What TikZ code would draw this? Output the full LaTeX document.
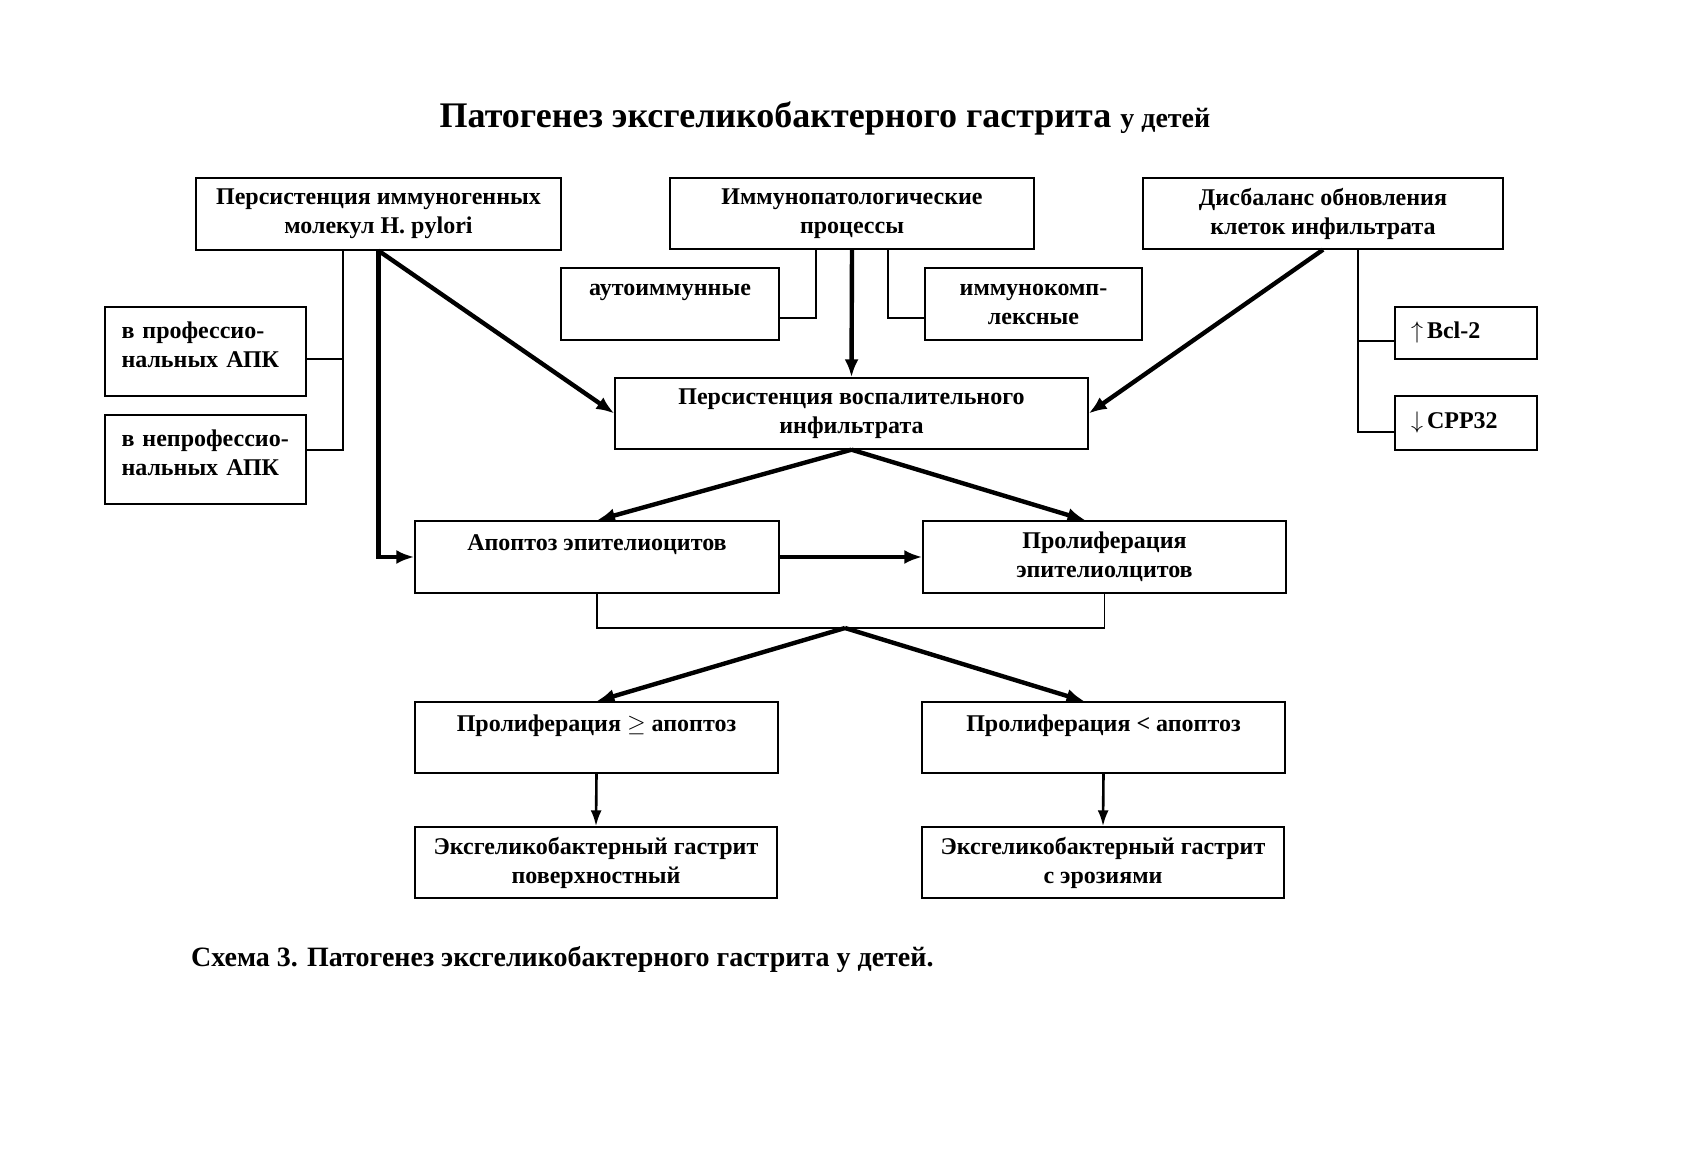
\documentclass[tikz,border=0pt]{standalone}
\usepackage{fontspec}
\setmainfont{Liberation Serif}
\usetikzlibrary{arrows.meta}
\tikzset{
  box/.style={draw, line width=0.7pt, inner sep=2pt, align=center, font=\bfseries\fontsize{12}{14.5}\selectfont},
  lbox/.style={box, align=left, inner xsep=8pt},
  thickarr/.style={line width=2.2pt, -{Latex[length=9pt,width=7pt]}},
  midarr/.style={line width=1.3pt, -{Latex[length=8pt,width=5.5pt]}},
  thin/.style={line width=0.6pt},
}
\begin{document}
\begin{tikzpicture}[x=0.5pt,y=-0.5pt]
\useasboundingbox (0,0) rectangle (1688,1159);
% title
\node (title) at (825,118) {\bfseries\fontsize{18}{21}\selectfont Патогенез эксгеликобактерного гастрита {\fontsize{14}{16}\selectfont у детей}};
% top row
\node[box, minimum width=182.5pt, minimum height=36pt] (b1) at (378.5,214) {Персистенция иммуногенных\\молекул H. pylori};
\node[box, minimum width=182pt, minimum height=35.5pt] (b2) at (852,213.5) {Иммунопатологические\\процессы};
\node[box, minimum width=180pt, minimum height=35.5pt] (b3) at (1323,213.5) {Дисбаланс обновления\\клеток инфильтрата};
% side boxes
\node[lbox, minimum width=100.5pt, minimum height=44.5pt, text width=84pt] (prof) at (205.5,351.5) {в профессио-\\нальных АПК\\[-7.5pt]~};
\node[lbox, minimum width=100.5pt, minimum height=44.5pt, text width=84pt] (nonprof) at (205.5,459.5) {в непрофессио-\\нальных АПК\\[-7.5pt]~};
\node[box, minimum width=109pt, minimum height=36pt] (auto) at (670,304) {аутоиммунные\\~};
\node[box, minimum width=108.5pt, minimum height=36pt] (icomp) at (1033.5,304) {иммунокомп-\\лексные};
\node[lbox, minimum width=71pt, minimum height=26pt, text width=55pt] (bcl) at (1466,333) {$\uparrow$\,Bcl-2};
\node[lbox, minimum width=71pt, minimum height=27pt, text width=55pt] (cpp) at (1466,423) {$\downarrow$\,CPP32};
% middle
\node[box, minimum width=236.5pt, minimum height=35.5pt] (infl) at (851.5,413.5) {Персистенция воспалительного\\инфильтрата};
\node[box, minimum width=182pt, minimum height=36pt] (apop) at (597,557) {Апоптоз эпителиоцитов\\~};
\node[box, minimum width=181.5pt, minimum height=36pt] (prol) at (1104.5,557) {Пролиферация\\эпителиолцитов};
% bottom
\node[box, minimum width=181.5pt, minimum height=35.5pt] (pge) at (596.5,737.5) {Пролиферация $\geq$ апоптоз\\~};
\node[box, minimum width=181.5pt, minimum height=35.5pt] (plt) at (1103.5,737.5) {Пролиферация < апоптоз\\~};
\node[box, minimum width=181pt, minimum height=35.5pt] (ex1) at (596,862.5) {Эксгеликобактерный гастрит\\поверхностный};
\node[box, minimum width=181pt, minimum height=35.5pt] (ex2) at (1103,862.5) {Эксгеликобактерный гастрит\\с эрозиями};
% caption
\node[anchor=west] (cap) at (184,960) {\bfseries\fontsize{14}{16}\selectfont Схема 3. Патогенез эксгеликобактерного гастрита у детей.};
% helper points
\coordinate (t0) at (343,359);
\coordinate (t1) at (343,450);
\coordinate (a1) at (816,318);
\coordinate (a2) at (888,318);
\coordinate (d1) at (1358,341);
\coordinate (d2) at (1358,432);
\coordinate (j) at (845,628);
% thin links
\draw[thin] (b1.south -| t1) -- (t1) -- (nonprof.east |- t1);
\draw[thin] (t0) -- (prof.east |- t0);
\draw[thin] (b2.south -| a1) -- (a1) -- (auto.east |- a1);
\draw[thin] (b2.south -| a2) -- (a2) -- (icomp.west |- a2);
\draw[thin] (b3.south -| d2) -- (d2) -- (cpp.west |- d2);
\draw[thin] (d1) -- (bcl.west |- d1);
\draw[thin] (apop.south) -- (apop.south |- j) -- (prol.south |- j) -- (prol.south);
% thick arrows
\draw[thickarr] (b1.south) -- (b1.south |- apop.west) -- (apop.west);
\draw[thickarr] (b1.south) -- (infl.west);
\draw[thickarr] (b2.south) -- (infl.north);
\draw[thickarr] (b3.south) -- (infl.east);
\draw[thickarr] (infl.south) -- (apop.north);
\draw[thickarr] (infl.south) -- ([xshift=-9.5pt]prol.north);
\draw[thickarr] (apop.east) -- (prol.west);
\draw[thickarr] (j) -- (pge.north);
\draw[thickarr] (j) -- ([xshift=-9.5pt]plt.north);
\draw[midarr] (pge.south) -- (ex1.north);
\draw[midarr] (plt.south) -- (ex2.north);
\end{tikzpicture}
\end{document}
